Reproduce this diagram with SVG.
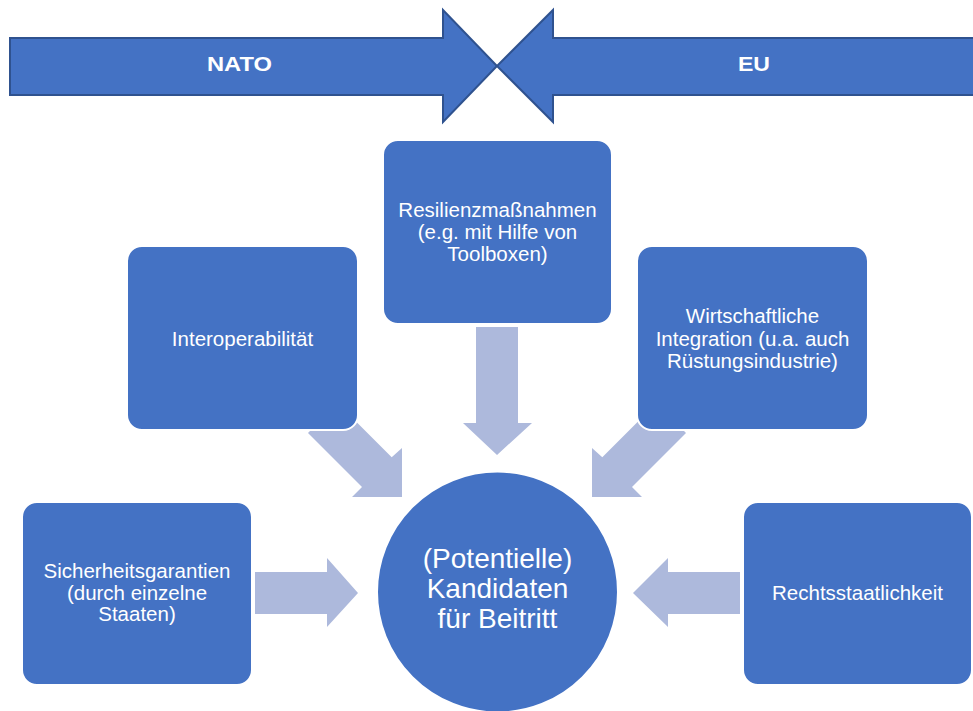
<svg xmlns="http://www.w3.org/2000/svg" width="973" height="711" viewBox="0 0 973 711">
  <style>
    .banner { fill: #4472C4; stroke: #2F528F; stroke-width: 2; stroke-linejoin: miter; }
    .banner-label { font-family: "Liberation Sans", Arial, sans-serif; font-weight: bold; font-size: 20px; fill: #FFFFFF; text-anchor: middle; }
    .box { fill: #4472C4; stroke: #FFFFFF; stroke-width: 2; }
    .label { font-family: "Liberation Sans", Arial, sans-serif; font-size: 20.5px; fill: #FFFFFF; text-anchor: middle; }
    .hub-label { font-family: "Liberation Sans", Arial, sans-serif; font-size: 28px; fill: #FFFFFF; text-anchor: middle; }
    .flow { fill: #ADB9DC; stroke: none; }
  </style>

  <rect x="0" y="0" width="973" height="711" fill="#FFFFFF"/>

  <!-- Opposing banner arrows -->
  <g id="nato">
    <polygon class="banner" points="10,38 443,38 443,10 497,66 443,122 443,95 10,95"/>
    <text class="banner-label" x="239.5" y="71" textLength="65" lengthAdjust="spacingAndGlyphs">NATO</text>
  </g>
  <g id="eu">
    <polygon class="banner" points="976,38 553,38 553,10 497,66 553,122 553,95 976,95"/>
    <text class="banner-label" x="754" y="71" textLength="32" lengthAdjust="spacingAndGlyphs">EU</text>
  </g>

  <!-- Block arrows pointing into the hub -->
  <g id="connectors">
    <!-- from top box, straight down -->
    <polygon class="flow" points="476,327 518,327 518,423 532,423 497,455 463,423 476,423"/>
    <!-- from upper-left box, diagonal -->
    <polygon class="flow" points="308,433 362,487 352,497 402,497 402,448 391.7,457.3 337.7,403.3"/>
    <!-- from upper-right box, diagonal -->
    <polygon class="flow" points="686,433 632,487 642,497 592,497 592,448 602.3,457.3 656.3,403.3"/>
    <!-- from lower-left box -->
    <polygon class="flow" points="255,572 327,572 327,558 358,593 327,627 327,614 255,614"/>
    <!-- from lower-right box -->
    <polygon class="flow" points="740,572 668,572 668,558 633,593 668,627 668,614 740,614"/>
  </g>

  <g id="resilienz">
    <rect class="box" x="383" y="140" width="229" height="184" rx="15" ry="15"/>
    <text class="label" x="497.5" y="217">Resilienzmaßnahmen</text>
    <text class="label" x="497.5" y="239">(e.g. mit Hilfe von</text>
    <text class="label" x="497.5" y="261">Toolboxen)</text>
  </g>

  <g id="interoperabilitaet">
    <rect class="box" x="127" y="246" width="231" height="184" rx="15" ry="15"/>
    <text class="label" x="242.5" y="346">Interoperabilität</text>
  </g>

  <g id="wirtschaft">
    <rect class="box" x="637" y="246" width="231" height="184" rx="15" ry="15"/>
    <text class="label" x="752.5" y="323">Wirtschaftliche</text>
    <text class="label" x="752.5" y="346">Integration (u.a. auch</text>
    <text class="label" x="752.5" y="368">Rüstungsindustrie)</text>
  </g>

  <g id="sicherheit">
    <rect class="box" x="22" y="502" width="230" height="183" rx="15" ry="15"/>
    <text class="label" x="137" y="578">Sicherheitsgarantien</text>
    <text class="label" x="137" y="600">(durch einzelne</text>
    <text class="label" x="137" y="621">Staaten)</text>
  </g>

  <g id="rechtsstaat">
    <rect class="box" x="743" y="502" width="229" height="183" rx="15" ry="15"/>
    <text class="label" x="857.5" y="600">Rechtsstaatlichkeit</text>
  </g>

  <g id="kandidaten">
    <circle class="box" cx="497.5" cy="592" r="120.5"/>
    <text class="hub-label" x="497.5" y="568">(Potentielle)</text>
    <text class="hub-label" x="497.5" y="598">Kandidaten</text>
    <text class="hub-label" x="497.5" y="628">für Beitritt</text>
  </g>
</svg>
